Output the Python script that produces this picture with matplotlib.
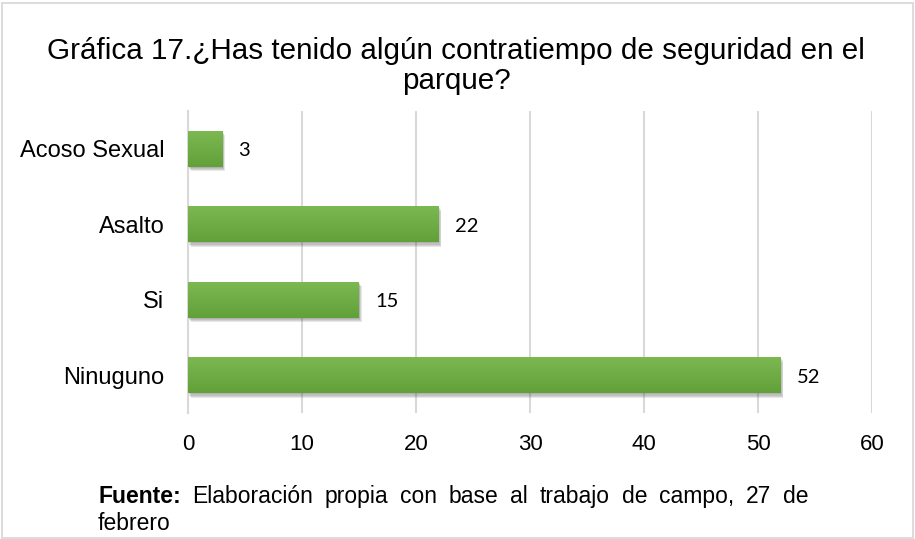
import matplotlib
matplotlib.use("Agg")
import matplotlib.pyplot as plt
import matplotlib.patheffects as pe
from matplotlib.patches import Rectangle
from matplotlib.colors import LinearSegmentedColormap
import numpy as np

categories = ["Ninuguno", "Si", "Asalto", "Acoso Sexual"]
values = [52, 15, 22, 3]
xticks = [0, 10, 20, 30, 40, 50, 60]
title_line1 = "Gráfica 17.¿Has tenido algún contratiempo de seguridad en el"
title_line2 = "parque?"
source_bold = "Fuente:"
source_words = ["Elaboración", "propia", "con", "base", "al", "trabajo", "de", "campo,", "27", "de"]
source_line2 = "febrero"

W, H = 915, 539
fig = plt.figure(figsize=(W / 100, H / 100), dpi=100)
fig.patch.set_facecolor("white")

# outer border
fig.patches.append(Rectangle((2 / W, 1.5 / H), 911 / W, 535 / H, transform=fig.transFigure,
                             fill=False, edgecolor="#d9d9d9", linewidth=1.3))

ax = fig.add_axes([188 / W, 1 - 413 / H, (872 - 188) / W, (413 - 111) / H])
ax.set_facecolor("none")

y = np.arange(len(categories))
h = 0.48
cmap = LinearSegmentedColormap.from_list("g", ["#62a03a", "#7db953"])
grad = np.linspace(0, 1, 64).reshape(-1, 1)

shadows = [pe.SimplePatchShadow(offset=(o * 0.6, -o), shadow_rgbFace="#404040", alpha=0.12)
           for o in (0.8, 1.6, 2.4, 3.2)]
bars = ax.barh(y, values, height=h, color="#6eab44", zorder=3,
               path_effects=shadows + [pe.Normal()])
for b in bars:
    x0, y0 = b.get_x(), b.get_y()
    im = ax.imshow(grad, extent=(x0, x0 + b.get_width(), y0, y0 + b.get_height()),
                   origin="lower", cmap=cmap, aspect="auto", zorder=4, interpolation="bilinear")
    im.set_clip_path(b)

for yi, v in zip(y, values):
    ax.annotate(str(v), (v, yi), xytext=(11.5, -1.5), textcoords="offset points",
                ha="left", va="center", fontsize=14.5, family=["Lato", "DejaVu Sans"], color="black")

ax.set_xlim(0, 60)
ax.set_ylim(-0.5, len(categories) - 0.5)
ax.set_xticks(xticks)
ax.set_xticklabels([str(t) for t in xticks], family="Liberation Sans", fontsize=16)
ax.set_yticks(y)
ax.set_yticklabels(categories, family="Liberation Sans", fontsize=17)
ax.tick_params(axis="both", length=0)
ax.tick_params(axis="x", pad=15)
ax.tick_params(axis="y", pad=17)
ax.grid(axis="x", color="#d9d9d9", linewidth=1.5, zorder=0)
ax.set_axisbelow(True)
for s in ["top", "right", "bottom"]:
    ax.spines[s].set_visible(False)
ax.spines["left"].set_color("#d9d9d9")
ax.spines["left"].set_linewidth(1.5)

fig.text(456 / W, 1 - 59 / H, title_line1, ha="center", va="baseline",
         fontsize=21.3, family="Liberation Sans")
fig.text(456 / W, 1 - 89 / H, title_line2, ha="center", va="baseline",
         fontsize=21.3, family="Liberation Sans")

# justified source line
fs = 16.5
x_left, x_right, base1 = 98, 808, 503
renderer = fig.canvas.get_renderer()
items = [fig.text(0, 1 - base1 / H, source_bold, ha="left", va="baseline", fontsize=fs,
                  family="Liberation Sans", fontweight="bold")]
for w in source_words:
    items.append(fig.text(0, 1 - base1 / H, w, ha="left", va="baseline", fontsize=fs,
                          family="Liberation Sans"))
widths = [t.get_window_extent(renderer).width for t in items]
gap = (x_right - x_left - sum(widths)) / (len(items) - 1)
xpos = x_left
for t, wd in zip(items, widths):
    t.set_x(xpos / W)
    xpos += wd + gap
fig.text(x_left / W, 1 - 530 / H, source_line2, ha="left", va="baseline",
         fontsize=fs, family="Liberation Sans")

fig.savefig("out.png", dpi=100)
